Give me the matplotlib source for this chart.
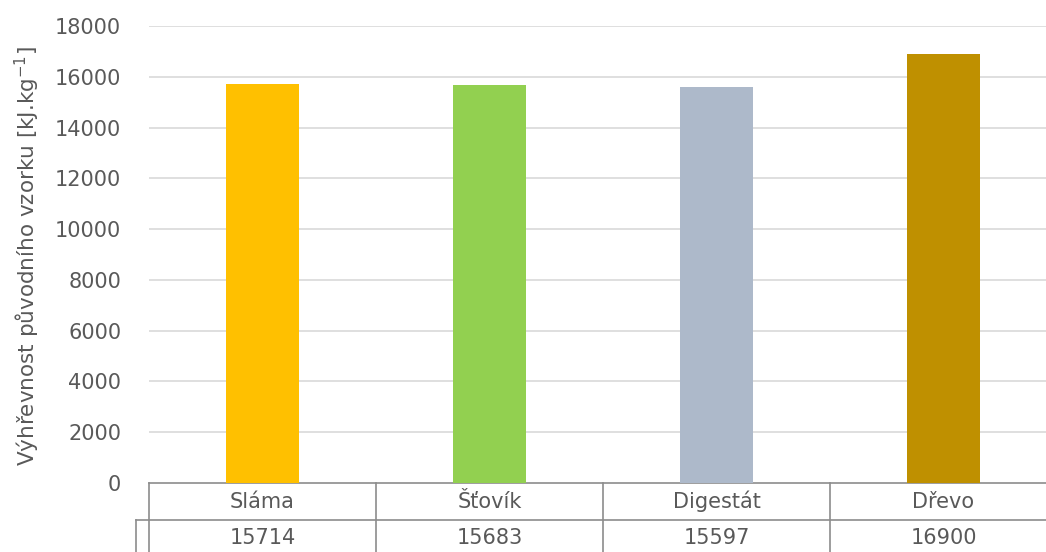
import matplotlib
matplotlib.use("Agg")
import matplotlib.pyplot as plt
from matplotlib.transforms import blended_transform_factory

plt.rcParams['font.family'] = ['DejaVu Sans']

categories = ["Sláma", "Šťovík", "Digestát", "Dřevo"]
values = [15714, 15683, 15597, 16900]
colors = ["#FFC000", "#92D050", "#ADB9CA", "#BF9000"]
yticks = [0, 2000, 4000, 6000, 8000, 10000, 12000, 14000, 16000, 18000]

W, H = 1046, 552
fig = plt.figure(figsize=(W / 100, H / 100), dpi=100)
ax = fig.add_axes([149 / W, 69 / H, 908 / W, 457 / H])

text_col = "#595959"
line_col = "#8c8c8c"
fs = 15

x = list(range(len(categories)))
ax.bar(x, values, width=0.32, color=colors, zorder=3)

ax.set_xlim(-0.5, len(categories) - 0.5)
ax.set_ylim(0, 18000)
ax.set_yticks(yticks)
ax.set_yticklabels([str(v) for v in yticks], color=text_col, fontsize=fs)
ax.tick_params(axis='y', length=0, pad=20)
ax.set_xticks([])
for v in yticks[1:]:
    ax.axhline(v, color="#d9d9d9", lw=1.2, zorder=1)
for s in ax.spines.values():
    s.set_visible(False)

# data table under the plot
trans = blended_transform_factory(ax.transData, ax.transAxes)
row_h = 37 / 457
ax.plot([-0.5, 3.5], [0, 0], transform=trans, color=line_col, lw=1.2, clip_on=False)
ax.plot([-0.5 - 13 / 227, 3.5], [-row_h, -row_h], transform=trans, color=line_col, lw=1.2, clip_on=False)
for b in [-0.5, 0.5, 1.5, 2.5, 3.5]:
    ax.plot([b, b], [0, -2.5 * row_h], transform=trans, color=line_col, lw=1.2, clip_on=False)
ax.plot([-0.5 - 13 / 227] * 2, [-row_h, -2.5 * row_h], transform=trans, color=line_col, lw=1.2, clip_on=False)
for i, (c, v) in enumerate(zip(categories, values)):
    ax.text(i, -0.5 * row_h, c, transform=trans, ha='center', va='center', color=text_col, fontsize=fs)
    ax.text(i, -1.5 * row_h, str(v), transform=trans, ha='center', va='center', color=text_col, fontsize=fs)

fig.text(27 / W, 1 - 256 / H, r"Výhřevnost původního vzorku [kJ.kg$^{\mathregular{-1}}$]",
         rotation=90, ha='center', va='center', color=text_col, fontsize=15.5)

fig.savefig("out.png", dpi=100)
